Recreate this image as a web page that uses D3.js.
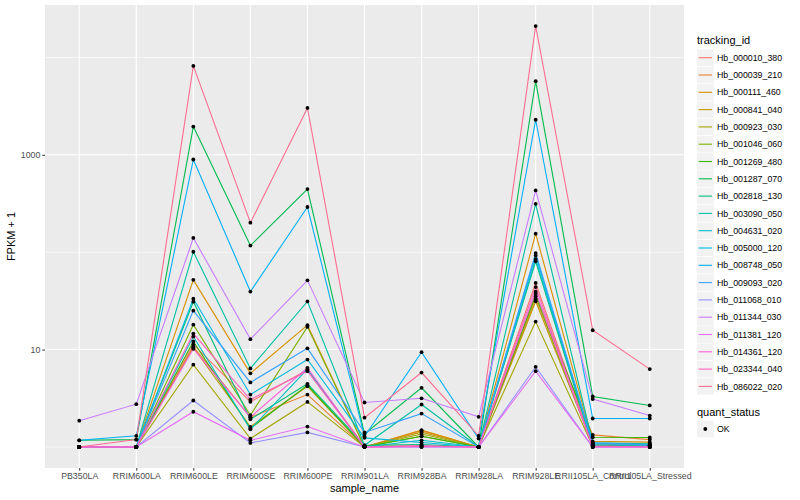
<!DOCTYPE html>
<html>
<head>
<meta charset="utf-8">
<script src="https://cdn.jsdelivr.net/npm/d3@7"></script>
<style>
  body { margin: 0; background: #fff; }
  text { font-family: "Liberation Sans", Arial, sans-serif; }
</style>
</head>
<body>
<svg id="chart"></svg>
<script>
var samples = ["PB350LA", "RRIM600LA", "RRIM600LE", "RRIM600SE", "RRIM600PE", "RRIM901LA",
  "RRIM928BA", "RRIM928LA", "RRIM928LE", "RRII105LA_Control", "RRII105LA_Stressed"];

var tracking_ids = ["Hb_000010_380", "Hb_000039_210", "Hb_000111_460", "Hb_000841_040",
  "Hb_000923_030", "Hb_001046_060", "Hb_001269_480", "Hb_001287_070", "Hb_002818_130",
  "Hb_003090_050", "Hb_004631_020", "Hb_005000_120", "Hb_008748_050", "Hb_009093_020",
  "Hb_011068_010", "Hb_011344_030", "Hb_011381_120", "Hb_014361_120", "Hb_023344_040",
  "Hb_086022_020"];

// FPKM + 1, one row per tracking_id, one column per sample
var fpkm = [
  [1.0, 1.0, 11.3, 2.91, 6.2, 1.02, 1.03, 1.0, 48.3, 1.04, 1.03],
  [1.0, 1.0, 10.7, 2.02, 3.45, 1.0, 1.47, 1.0, 33.1, 1.33, 1.19],
  [1.0, 1.0, 52, 5.7, 17.8, 1.0, 1.49, 1.0, 155, 1.14, 1.12],
  [1.0, 1.0, 10.5, 1.61, 4.2, 1.0, 1.42, 1.0, 31.3, 1.06, 1.05],
  [1.0, 1.0, 7.0, 1.22, 2.9, 1.0, 1.36, 1.0, 19.4, 1.02, 1.02],
  [1.0, 1.0, 18.0, 2.12, 17.1, 1.0, 1.29, 1.0, 35.2, 1.03, 1.04],
  [1.0, 1.0, 12.1, 1.55, 4.3, 1.0, 1.29, 1.0, 37.2, 1.26, 1.25],
  [1.17, 1.19, 1950, 117, 445, 1.36, 4.05, 1.0, 5700, 3.3, 2.67],
  [1.0, 1.0, 31.0, 1.92, 4.45, 1.04, 1.06, 1.0, 80.5, 1.02, 1.01],
  [1.0, 1.0, 101, 6.4, 31.2, 1.04, 2.73, 1.0, 314, 1.1, 1.08],
  [1.0, 1.0, 13.6, 1.52, 6.3, 1.0, 1.17, 1.0, 85, 1.08, 1.06],
  [1.0, 1.0, 33.3, 3.45, 7.9, 1.24, 1.11, 1.0, 92.7, 1.05, 1.04],
  [1.17, 1.3, 895, 39.4, 291, 1.28, 9.4, 1.22, 2290, 1.96, 1.96],
  [1.0, 1.0, 25.1, 4.6, 10.3, 1.41, 2.2, 1.0, 98, 1.1, 1.05],
  [1.0, 1.0, 3.0, 1.1, 1.41, 1.0, 1.0, 1.0, 6.65, 1.0, 1.0],
  [1.86, 2.75, 140, 12.8, 51.4, 2.86, 3.16, 2.04, 431, 3.1, 2.1],
  [1.0, 1.0, 2.3, 1.17, 1.62, 1.0, 1.0, 1.0, 6.0, 1.0, 1.0],
  [1.0, 1.0, 10.2, 2.02, 6.5, 1.0, 1.02, 1.0, 39.3, 1.0, 1.0],
  [1.0, 1.0, 14.6, 3.07, 6.0, 1.0, 1.02, 1.0, 43.8, 1.02, 1.0],
  [1.0, 1.19, 8180, 201, 3030, 2.0, 5.8, 1.3, 21000, 15.8, 6.3]
];

var y_major = [10, 1000];
var y_minor = [1, 100, 10000];
var quant_status = ["OK"];

// ggplot hue palette for 20 levels
var palette = ["#F8766D", "#EA8331", "#D89000", "#C09B00", "#A3A500", "#7CAE00", "#39B600",
  "#00BB4E", "#00BF7D", "#00C1A3", "#00BFC4", "#00BAE0", "#00B0F6", "#35A2FF", "#9590FF",
  "#C77CFF", "#E76BF3", "#FA62DB", "#FF62BC", "#FF6C91"];

var width = 800, height = 500;
var panel = { left: 45, right: 684, top: 5, bottom: 468 };

var svg = d3.select("#chart").attr("width", width).attr("height", height);

var x = d3.scalePoint()
  .domain(samples)
  .range([panel.left, panel.right])
  .padding(0.6);

// log scale, expanded 5% like ggplot
var all = d3.merge(fpkm);
var lo = Math.log10(d3.min(all)), hi = Math.log10(d3.max(all));
var pad = (hi - lo) * 0.05;
var y = d3.scaleLog()
  .domain([Math.pow(10, lo - pad), Math.pow(10, hi + pad)])
  .range([panel.bottom, panel.top]);

svg.append("rect")
  .attr("x", panel.left).attr("y", panel.top)
  .attr("width", panel.right - panel.left)
  .attr("height", panel.bottom - panel.top)
  .attr("fill", "#EBEBEB");

var grid = svg.append("g");
grid.selectAll(".minor").data(y_minor).enter().append("line")
  .attr("x1", panel.left).attr("x2", panel.right)
  .attr("y1", d => y(d)).attr("y2", d => y(d))
  .attr("stroke", "#fff").attr("stroke-width", 0.6);
grid.selectAll(".major").data(y_major).enter().append("line")
  .attr("x1", panel.left).attr("x2", panel.right)
  .attr("y1", d => y(d)).attr("y2", d => y(d))
  .attr("stroke", "#fff").attr("stroke-width", 1.1);
grid.selectAll(".vx").data(samples).enter().append("line")
  .attr("x1", d => x(d)).attr("x2", d => x(d))
  .attr("y1", panel.top).attr("y2", panel.bottom)
  .attr("stroke", "#fff").attr("stroke-width", 1.1);

// lines
var line = d3.line()
  .x((d, i) => x(samples[i]))
  .y(d => y(d));

svg.append("g").selectAll("path")
  .data(fpkm)
  .enter().append("path")
  .attr("d", line)
  .attr("fill", "none")
  .attr("stroke", (d, i) => palette[i])
  .attr("stroke-width", 1.1);

// points
var pts = [];
fpkm.forEach(function(row) {
  row.forEach(function(v, j) { pts.push({ s: samples[j], v: v }); });
});
svg.append("g").selectAll("circle")
  .data(pts)
  .enter().append("circle")
  .attr("cx", d => x(d.s))
  .attr("cy", d => y(d.v))
  .attr("r", 1.9)
  .attr("fill", "#000");

// axes
var xAxis = svg.append("g")
  .attr("transform", `translate(0,${panel.bottom})`)
  .call(d3.axisBottom(x).tickSize(2.7).tickPadding(2));
var yAxis = svg.append("g")
  .attr("transform", `translate(${panel.left},0)`)
  .call(d3.axisLeft(y).tickValues(y_major).tickFormat(d3.format("d")).tickSize(2.7).tickPadding(2));
[xAxis, yAxis].forEach(function(a) {
  a.select(".domain").remove();
  a.selectAll(".tick line").attr("stroke", "#333").attr("stroke-width", 1);
  a.selectAll(".tick text").attr("fill", "#4D4D4D").attr("font-size", 8.8)
    .attr("font-family", "Liberation Sans, Arial, sans-serif");
});

svg.append("text")
  .attr("x", (panel.left + panel.right) / 2).attr("y", 492)
  .attr("text-anchor", "middle").attr("font-size", 11)
  .text("sample_name");
svg.append("text")
  .attr("transform", `translate(15,${(panel.top + panel.bottom) / 2}) rotate(-90)`)
  .attr("text-anchor", "middle").attr("font-size", 11)
  .text("FPKM + 1");

// legend: tracking_id
var lx = 697, ly0 = 57.7, step = 17.3;
var leg = svg.append("g");
leg.append("text").attr("x", lx).attr("y", 44).attr("font-size", 11).text("tracking_id");
var keys = leg.selectAll(".key").data(tracking_ids).enter().append("g")
  .attr("transform", (d, i) => `translate(${lx},${ly0 + i * step})`);
keys.append("rect").attr("x", 0).attr("y", -8.3).attr("width", 16.6).attr("height", 16.6)
  .attr("fill", "#F2F2F2");
keys.append("line").attr("x1", 1.7).attr("x2", 15).attr("y1", 0).attr("y2", 0)
  .attr("stroke", (d, i) => palette[i]).attr("stroke-width", 1.1);
keys.append("text").attr("x", 20).attr("y", 3.1).attr("font-size", 8.8).text(d => d);

// legend: quant_status
leg.append("text").attr("x", lx).attr("y", 416).attr("font-size", 11).text("quant_status");
var qk = leg.selectAll(".qkey").data(quant_status).enter().append("g")
  .attr("transform", (d, i) => `translate(${lx},${429 + i * step})`);
qk.append("rect").attr("x", 0).attr("y", -8.3).attr("width", 16.6).attr("height", 16.6)
  .attr("fill", "#F2F2F2");
qk.append("circle").attr("cx", 8.3).attr("cy", 0).attr("r", 1.9).attr("fill", "#000");
qk.append("text").attr("x", 20).attr("y", 3.1).attr("font-size", 8.8).text(d => d);
</script>
</body>
</html>
